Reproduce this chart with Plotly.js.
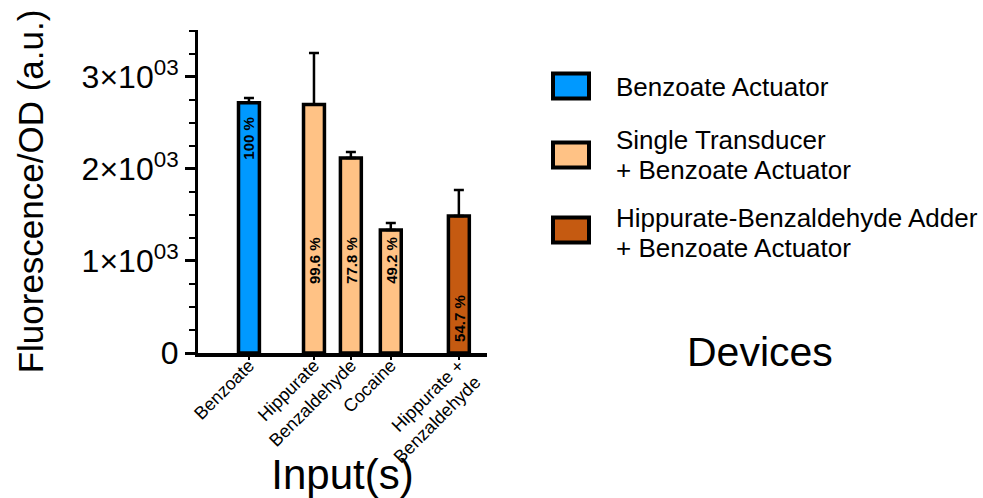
<!DOCTYPE html>
<html><head><meta charset="utf-8">
<script src="https://cdn.plot.ly/plotly-3.0.1.min.js"></script>
<style>html,body{margin:0;padding:0;background:#fff}#chart{width:983px;height:498px}</style>
</head><body><div id="chart"></div>
<script>
// ---- data ----
const inputs = ['Benzoate', 'Hippurate', 'Benzaldehyde', 'Cocaine', 'Hippurate +<br>Benzaldehyde'];
const fluorescence = [2720, 2700, 2120, 1337, 1490];
const errorUp = [50, 560, 65, 76, 282];
const percentLabels = ['100 %', '99.6 %', '77.8 %', '49.2 %', '54.7 %'];
const deviceOf = [0, 1, 1, 1, 2];
const devices = ['Benzoate Actuator', 'Single Transducer<br>+ Benzoate Actuator', 'Hippurate-Benzaldehyde Adder<br>+ Benzoate Actuator'];
const yTickVals = [0, 1000, 2000, 3000];
const yTickText = ['0', '1×10<sup>03</sup>', '2×10<sup>03</sup>', '3×10<sup>03</sup>'];

// ---- layout / style ----
const slots = [1.34, 3.05, 4.02, 5.07, 6.86];
const labelAt = [2340, 1010, 1010, 1010, 380];
const colors = ['#0099FF', '#FFC285', '#C55A11'];
const FONT = 'Liberation Sans, Arial, sans-serif';
const M = {l: 198, r: 496, t: 30, b: 145};
const W = 983, H = 498;
const pw = W - M.l - M.r, ph = H - M.t - M.b;
const xp = px => (px - M.l) / pw;
const yp = py => (H - M.b - py) / ph;

const traces = devices.map((d, k) => {
  const idx = inputs.map((_, i) => i).filter(i => deviceOf[i] === k);
  return {
    type: 'bar',
    name: d.replace('<br>', ' '),
    x: idx.map(i => slots[i]),
    y: idx.map(i => fluorescence[i]),
    width: 0.55,
    marker: {color: colors[k], line: {color: '#000', width: 3.5}},
    error_y: {type: 'data', symmetric: false, array: idx.map(i => errorUp[i]),
              arrayminus: idx.map(() => 0), color: '#000', thickness: 2.5, width: 5},
    showlegend: false,
    hoverinfo: 'skip'
  };
});

const annotations = [];
percentLabels.forEach((t, i) => annotations.push({
  x: slots[i], y: labelAt[i], xref: 'x', yref: 'y', text: '<b>' + t + '</b>',
  textangle: -90, showarrow: false, font: {family: FONT, size: 15, color: '#000'}
}));
const legendBoxY = [86, 155, 230];
const legendTextY = [87, 155, 233];
const legendLineGap = 30;
const shapes = [];
devices.forEach((d, k) => {
  shapes.push({type: 'rect', xref: 'paper', yref: 'paper',
    x0: xp(553), x1: xp(589), y0: yp(legendBoxY[k] - 12.5), y1: yp(legendBoxY[k] + 12.5),
    fillcolor: colors[k], line: {color: '#000', width: 4}});
  const lines = d.split('<br>');
  lines.forEach((ln, j) => {
    const cy = legendTextY[k] + (j - (lines.length - 1) / 2) * legendLineGap;
    annotations.push({xref: 'paper', yref: 'paper', x: xp(614), y: yp(cy),
      xanchor: 'left', yanchor: 'middle', align: 'left', text: ln, showarrow: false,
      font: {family: FONT, size: 26, color: '#000'}});
  });
});
annotations.push({xref: 'paper', yref: 'paper', x: xp(760), y: yp(352), xanchor: 'center', yanchor: 'middle',
  text: 'Devices', showarrow: false, font: {family: FONT, size: 41, color: '#000'}});

const layout = {
  width: W, height: H, margin: M,
  paper_bgcolor: '#fff', plot_bgcolor: '#fff',
  font: {family: FONT, color: '#000'},
  bargap: 0,
  xaxis: {
    range: [0, 7.6], tickmode: 'array', tickvals: slots, ticktext: inputs, tickangle: -45,
    tickfont: {family: FONT, size: 18, color: '#000'}, ticklabelstandoff: -12,
    showline: true, linecolor: '#000', linewidth: 4, ticks: 'outside', ticklen: 3, tickwidth: 1.5, tickcolor: '#000',
    showgrid: false, zeroline: false, fixedrange: true,
    title: {text: 'Input(s)', font: {family: FONT, size: 42, color: '#000'}, standoff: 0}
  },
  yaxis: {
    range: [0, 3510], tickmode: 'array', tickvals: yTickVals, ticktext: yTickText,
    tickfont: {family: FONT, size: 32, color: '#000'},
    showline: true, linecolor: '#000', linewidth: 3, ticks: 'outside', ticklen: 10, tickwidth: 3, tickcolor: '#000',
    minor: {dtick: 250, ticks: 'outside', ticklen: 6, tickwidth: 2.5, tickcolor: '#000'},
    showgrid: false, zeroline: false, fixedrange: true,
    title: {text: 'Fluorescence/OD (a.u.)', font: {family: FONT, size: 35, color: '#000'}, standoff: 28}
  },
  shapes: shapes,
  annotations: annotations
};
Plotly.newPlot('chart', traces, layout, {staticPlot: true, displayModeBar: false});
</script></body></html>
